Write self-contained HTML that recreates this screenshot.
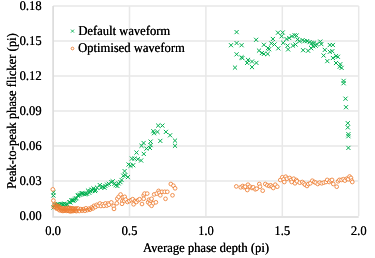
<!DOCTYPE html>
<html><head><meta charset="utf-8"><style>
html,body{margin:0;padding:0;background:#fff;}
svg{display:block;will-change:transform;}
text{font-family:"Liberation Serif",serif;font-size:12.6px;fill:#000;text-rendering:geometricPrecision;}
</style></head><body>
<svg width="375" height="258" viewBox="0 0 375 258">
<rect width="375" height="258" fill="#fff"/>
<path d="M129.5 5.9V215.9M205.9 5.9V215.9M282.3 5.9V215.9M358.7 5.9V215.9M53.1 180.9H358.7M53.1 145.9H358.7M53.1 110.9H358.7M53.1 75.9H358.7M53.1 40.9H358.7M53.1 5.9H358.7" stroke="#e8e8e8" stroke-width="1.5" fill="none"/>
<path d="M53.1 5.9V217.0H358.7" stroke="#dadada" stroke-width="1.6" fill="none"/>
<path d="M51.45 190.25L55.55 194.35M51.45 194.35L55.55 190.25M51.35 193.45L55.45 197.55M51.35 197.55L55.45 193.45M51.45 205.45L55.55 209.55M51.45 209.55L55.55 205.45M53.25 202.85L57.35 206.95M53.25 206.95L57.35 202.85M54.65 202.85L58.75 206.95M54.65 206.95L58.75 202.85M56.15 201.95L60.25 206.05M56.15 206.05L60.25 201.95M57.05 202.95L61.15 207.05M57.05 207.05L61.15 202.95M58.55 202.05L62.65 206.15M58.55 206.15L62.65 202.05M60.25 202.25L64.35 206.35M60.25 206.35L64.35 202.25M61.45 202.25L65.55 206.35M61.45 206.35L65.55 202.25M62.65 201.65L66.75 205.75M62.65 205.75L66.75 201.65M63.95 202.55L68.05 206.65M63.95 206.65L68.05 202.55M65.15 202.35L69.25 206.45M65.15 206.45L69.25 202.35M67.25 200.05L71.35 204.15M67.25 204.15L71.35 200.05M68.35 200.35L72.45 204.45M68.35 204.45L72.45 200.35M69.15 198.35L73.25 202.45M69.15 202.45L73.25 198.35M70.55 198.45L74.65 202.55M70.55 202.55L74.65 198.45M71.45 198.45L75.55 202.55M71.45 202.55L75.55 198.45M72.55 197.75L76.65 201.85M72.55 201.85L76.65 197.75M73.35 196.65L77.45 200.75M73.35 200.75L77.45 196.65M74.45 196.15L78.55 200.25M74.45 200.25L78.55 196.15M75.75 193.65L79.85 197.75M75.75 197.75L79.85 193.65M76.35 193.05L80.45 197.15M76.35 197.15L80.45 193.05M77.95 192.65L82.05 196.75M77.95 196.75L82.05 192.65M79.05 191.35L83.15 195.45M79.05 195.45L83.15 191.35M80.15 191.25L84.25 195.35M80.15 195.35L84.25 191.25M81.15 191.45L85.25 195.55M81.15 195.55L85.25 191.45M82.45 192.15L86.55 196.25M82.45 196.25L86.55 192.15M83.65 191.85L87.75 195.95M83.65 195.95L87.75 191.85M84.95 191.65L89.05 195.75M84.95 195.75L89.05 191.65M85.95 188.55L90.05 192.65M85.95 192.65L90.05 188.55M87.25 190.75L91.35 194.85M87.25 194.85L91.35 190.75M88.35 189.15L92.45 193.25M88.35 193.25L92.45 189.15M89.45 187.65L93.55 191.75M89.45 191.75L93.55 187.65M90.65 188.35L94.75 192.45M90.65 192.45L94.75 188.35M91.45 186.35L95.55 190.45M91.45 190.45L95.55 186.35M92.95 188.95L97.05 193.05M92.95 193.05L97.05 188.95M93.65 187.95L97.75 192.05M93.65 192.05L97.75 187.95M94.95 185.55L99.05 189.65M94.95 189.65L99.05 185.55M97.75 183.05L101.85 187.15M97.75 187.15L101.85 183.05M99.05 185.65L103.15 189.75M99.05 189.75L103.15 185.65M100.75 184.75L104.85 188.85M100.75 188.85L104.85 184.75M102.45 185.65L106.55 189.75M102.45 189.75L106.55 185.65M103.35 183.95L107.45 188.05M103.35 188.05L107.45 183.95M105.05 182.65L109.15 186.75M105.05 186.75L109.15 182.65M106.75 181.75L110.85 185.85M106.75 185.85L110.85 181.75M109.35 180.05L113.45 184.15M109.35 184.15L113.45 180.05M110.65 179.25L114.75 183.35M110.65 183.35L114.75 179.25M112.35 181.75L116.45 185.85M112.35 185.85L116.45 181.75M113.65 183.05L117.75 187.15M113.65 187.15L117.75 183.05M115.35 183.95L119.45 188.05M115.35 188.05L119.45 183.95M116.55 181.35L120.65 185.45M116.55 185.45L120.65 181.35M118.35 180.05L122.45 184.15M118.35 184.15L122.45 180.05M119.55 177.95L123.65 182.05M119.55 182.05L123.65 177.95M134.45 150.55L138.55 154.65M134.45 154.65L138.55 150.55M141.75 151.85L145.85 155.95M141.75 155.95L145.85 151.85M129.85 156.55L133.95 160.65M129.85 160.65L133.95 156.55M132.45 156.55L136.55 160.65M132.45 160.65L136.55 156.55M135.75 157.15L139.85 161.25M135.75 161.25L139.85 157.15M139.05 158.45L143.15 162.55M139.05 162.55L143.15 158.45M126.55 162.45L130.65 166.55M126.55 166.55L130.65 162.45M128.45 163.75L132.55 167.85M128.45 167.85L132.55 163.75M131.15 163.15L135.25 167.25M131.15 167.25L135.25 163.15M122.55 169.05L126.65 173.15M122.55 173.15L126.65 169.05M121.25 173.65L125.35 177.75M121.25 177.75L125.35 173.65M123.25 173.05L127.35 177.15M123.25 177.15L127.35 173.05M125.85 175.05L129.95 179.15M125.85 179.15L129.95 175.05M156.15 123.55L160.25 127.65M156.15 127.65L160.25 123.55M160.35 123.55L164.45 127.65M160.35 127.65L164.45 123.55M151.25 129.15L155.35 133.25M151.25 133.25L155.35 129.15M155.45 129.85L159.55 133.95M155.45 133.95L159.55 129.85M151.95 131.15L156.05 135.25M151.95 135.25L156.05 131.15M163.85 129.85L167.95 133.95M163.85 133.95L167.95 129.85M168.05 133.25L172.15 137.35M168.05 137.35L172.15 133.25M158.25 138.85L162.35 142.95M158.25 142.95L162.35 138.85M172.95 138.55L177.05 142.65M172.95 142.65L177.05 138.55M172.95 143.75L177.05 147.85M172.95 147.85L177.05 143.75M148.55 139.55L152.65 143.65M148.55 143.65L152.65 139.55M141.55 140.95L145.65 145.05M141.55 145.05L145.65 140.95M139.45 143.75L143.55 147.85M139.45 147.85L143.55 143.75M148.55 143.05L152.65 147.15M148.55 147.15L152.65 143.05M144.35 146.55L148.45 150.65M144.35 150.65L148.45 146.55M147.85 145.85L151.95 149.95M147.85 149.95L151.95 145.85M234.55 30.05L238.65 34.15M234.55 34.15L238.65 30.05M228.95 43.15L233.05 47.25M228.95 47.25L233.05 43.15M234.55 41.05L238.65 45.15M234.55 45.15L238.65 41.05M239.55 43.15L243.65 47.25M239.55 47.25L243.65 43.15M254.05 37.75L258.15 41.85M254.05 41.85L258.15 37.75M234.55 52.25L238.65 56.35M234.55 56.35L238.65 52.25M239.45 55.25L243.55 59.35M239.45 59.35L243.55 55.25M240.35 56.05L244.45 60.15M240.35 60.15L244.45 56.05M245.95 57.85L250.05 61.95M245.95 61.95L250.05 57.85M245.05 60.85L249.15 64.95M245.05 64.95L249.15 60.85M249.95 59.45L254.05 63.55M249.95 63.55L254.05 59.45M254.35 60.85L258.45 64.95M254.35 64.95L258.45 60.85M249.95 65.05L254.05 69.15M249.95 69.15L254.05 65.05M232.95 65.55L237.05 69.65M232.95 69.65L237.05 65.55M261.85 42.75L265.95 46.85M261.85 46.85L265.95 42.75M256.95 48.55L261.05 52.65M256.95 52.65L261.05 48.55M259.85 50.95L263.95 55.05M259.85 55.05L263.95 50.95M261.85 51.85L265.95 55.95M261.85 55.95L265.95 51.85M265.65 51.85L269.75 55.95M265.65 55.95L269.75 51.85M265.95 46.05L270.05 50.15M265.95 50.15L270.05 46.05M267.05 47.15L271.15 51.25M267.05 51.25L271.15 47.15M275.95 30.65L280.05 34.75M275.95 34.75L280.05 30.65M280.65 30.45L284.75 34.55M280.65 34.55L284.75 30.45M279.55 34.25L283.65 38.35M279.55 38.35L283.65 34.25M270.85 36.95L274.95 41.05M270.85 41.05L274.95 36.95M269.25 41.35L273.35 45.45M269.25 45.45L273.35 41.35M272.45 42.45L276.55 46.55M272.45 46.55L276.55 42.45M276.25 46.25L280.35 50.35M276.25 50.35L280.35 46.25M281.15 40.75L285.25 44.85M281.15 44.85L285.25 40.75M284.45 36.95L288.55 41.05M284.45 41.05L288.55 36.95M287.15 35.95L291.25 40.05M287.15 40.05L291.25 35.95M289.85 34.25L293.95 38.35M289.85 38.35L293.95 34.25M292.55 33.15L296.65 37.25M292.55 37.25L296.65 33.15M285.55 43.55L289.65 47.65M285.55 47.65L289.65 43.55M286.05 47.35L290.15 51.45M286.05 51.45L290.15 47.35M290.95 43.55L295.05 47.65M290.95 47.65L295.05 43.55M294.45 33.55L298.55 37.65M294.45 37.65L298.55 33.55M295.45 37.55L299.55 41.65M295.45 41.65L299.55 37.55M297.45 39.05L301.55 43.15M297.45 43.15L301.55 39.05M300.55 38.05L304.65 42.15M300.55 42.15L304.65 38.05M302.55 39.05L306.65 43.15M302.55 43.15L306.65 39.05M305.05 39.05L309.15 43.15M305.05 43.15L309.15 39.05M307.55 40.05L311.65 44.15M307.55 44.15L311.65 40.05M309.65 41.05L313.75 45.15M309.65 45.15L313.75 41.05M311.65 41.05L315.75 45.15M311.65 45.15L315.75 41.05M313.65 43.65L317.75 47.75M313.65 47.75L317.75 43.65M314.65 42.05L318.75 46.15M314.65 46.15L318.75 42.05M318.25 39.55L322.35 43.65M318.25 43.65L322.35 39.55M319.25 42.05L323.35 46.15M319.25 46.15L323.35 42.05M311.15 44.15L315.25 48.25M311.15 48.25L315.25 44.15M309.15 46.15L313.25 50.25M309.15 50.25L313.25 46.15M306.05 48.65L310.15 52.75M306.05 52.75L310.15 48.65M301.05 48.15L305.15 52.25M301.05 52.25L305.15 48.15M293.45 42.45L297.55 46.55M293.45 46.55L297.55 42.45M327.75 42.95L331.85 47.05M327.75 47.05L331.85 42.95M330.85 42.95L334.95 47.05M330.85 47.05L334.95 42.95M322.75 47.85L326.85 51.95M322.75 51.95L326.85 47.85M327.75 49.75L331.85 53.85M327.75 53.85L331.85 49.75M330.25 49.15L334.35 53.25M330.25 53.25L334.35 49.15M321.55 53.45L325.65 57.55M321.55 57.55L325.65 53.45M330.85 55.95L334.95 60.05M330.85 60.05L334.95 55.95M333.95 54.05L338.05 58.15M333.95 58.15L338.05 54.05M335.85 54.75L339.95 58.85M335.85 58.85L339.95 54.75M325.25 59.05L329.35 63.15M325.25 63.15L329.35 59.05M333.95 60.95L338.05 65.05M333.95 65.05L338.05 60.95M338.25 62.15L342.35 66.25M338.25 66.25L342.35 62.15M337.65 64.65L341.75 68.75M337.65 68.75L341.75 64.65M339.55 65.85L343.65 69.95M339.55 69.95L343.65 65.85M341.55 78.85L345.65 82.95M341.55 82.95L345.65 78.85M341.55 81.15L345.65 85.25M341.55 85.25L345.65 81.15M343.45 96.65L347.55 100.75M343.45 100.75L347.55 96.65M343.95 105.15L348.05 109.25M343.95 109.25L348.05 105.15M345.75 121.15L349.85 125.25M345.75 125.25L349.85 121.15M345.75 125.35L349.85 129.45M345.75 129.45L349.85 125.35M346.35 132.15L350.45 136.25M346.35 136.25L350.45 132.15M346.35 134.15L350.45 138.25M346.35 138.25L350.45 134.15M346.35 145.85L350.45 149.95M346.35 149.95L350.45 145.85" stroke="#00b050" stroke-width="1.0" fill="none"/>
<g fill="none" stroke="#ed7d31" stroke-width="0.85"><circle cx="53.7" cy="206.9" r="1.85"/><circle cx="54.5" cy="204.0" r="1.85"/><circle cx="55.0" cy="206.7" r="1.85"/><circle cx="55.7" cy="205.0" r="1.85"/><circle cx="56.4" cy="208.5" r="1.85"/><circle cx="56.8" cy="206.5" r="1.85"/><circle cx="57.3" cy="208.1" r="1.85"/><circle cx="58.0" cy="206.0" r="1.85"/><circle cx="58.5" cy="209.2" r="1.85"/><circle cx="59.2" cy="206.7" r="1.85"/><circle cx="59.6" cy="210.3" r="1.85"/><circle cx="60.3" cy="208.2" r="1.85"/><circle cx="61.2" cy="210.2" r="1.85"/><circle cx="61.6" cy="208.2" r="1.85"/><circle cx="62.3" cy="210.9" r="1.85"/><circle cx="62.8" cy="208.5" r="1.85"/><circle cx="63.6" cy="210.8" r="1.85"/><circle cx="64.0" cy="208.7" r="1.85"/><circle cx="64.5" cy="210.6" r="1.85"/><circle cx="65.4" cy="208.4" r="1.85"/><circle cx="65.8" cy="210.2" r="1.85"/><circle cx="66.4" cy="208.5" r="1.85"/><circle cx="66.8" cy="210.9" r="1.85"/><circle cx="67.7" cy="207.9" r="1.85"/><circle cx="68.3" cy="210.8" r="1.85"/><circle cx="68.9" cy="208.2" r="1.85"/><circle cx="69.5" cy="211.1" r="1.85"/><circle cx="69.8" cy="207.9" r="1.85"/><circle cx="70.7" cy="211.4" r="1.85"/><circle cx="71.1" cy="208.4" r="1.85"/><circle cx="71.8" cy="210.7" r="1.85"/><circle cx="72.3" cy="208.3" r="1.85"/><circle cx="72.9" cy="211.1" r="1.85"/><circle cx="73.5" cy="208.5" r="1.85"/><circle cx="74.3" cy="210.5" r="1.85"/><circle cx="74.8" cy="209.0" r="1.85"/><circle cx="75.3" cy="210.8" r="1.85"/><circle cx="76.1" cy="208.4" r="1.85"/><circle cx="76.5" cy="211.1" r="1.85"/><circle cx="78.0" cy="208.4" r="1.85"/><circle cx="79.2" cy="211.0" r="1.85"/><circle cx="80.8" cy="209.1" r="1.85"/><circle cx="82.1" cy="210.7" r="1.85"/><circle cx="83.3" cy="209.2" r="1.85"/><circle cx="84.9" cy="210.8" r="1.85"/><circle cx="85.9" cy="208.3" r="1.85"/><circle cx="87.4" cy="210.1" r="1.85"/><circle cx="88.9" cy="208.7" r="1.85"/><circle cx="90.0" cy="209.7" r="1.85"/><circle cx="91.6" cy="207.5" r="1.85"/><circle cx="92.9" cy="208.5" r="1.85"/><circle cx="94.0" cy="205.8" r="1.85"/></g>
<g fill="#fff" stroke="#ed7d31" stroke-width="0.85"><circle cx="52.8" cy="189.4" r="1.85"/><circle cx="53.4" cy="200.6" r="1.85"/><circle cx="95.6" cy="206.9" r="1.85"/><circle cx="96.8" cy="204.8" r="1.85"/><circle cx="98.3" cy="205.7" r="1.85"/><circle cx="99.9" cy="203.5" r="1.85"/><circle cx="100.9" cy="206.0" r="1.85"/><circle cx="102.7" cy="204.4" r="1.85"/><circle cx="103.9" cy="205.9" r="1.85"/><circle cx="105.5" cy="203.4" r="1.85"/><circle cx="106.8" cy="205.6" r="1.85"/><circle cx="108.2" cy="203.5" r="1.85"/><circle cx="108.9" cy="204.7" r="1.85"/><circle cx="111.3" cy="202.4" r="1.85"/><circle cx="113.6" cy="206.1" r="1.85"/><circle cx="114" cy="208.9" r="1.85"/><circle cx="116.8" cy="203.3" r="1.85"/><circle cx="117.3" cy="198.7" r="1.85"/><circle cx="118.7" cy="196.8" r="1.85"/><circle cx="120.6" cy="194.5" r="1.85"/><circle cx="122.9" cy="197.3" r="1.85"/><circle cx="124.7" cy="196.8" r="1.85"/><circle cx="122.4" cy="201" r="1.85"/><circle cx="122" cy="203.8" r="1.85"/><circle cx="124.3" cy="201" r="1.85"/><circle cx="125.7" cy="199.6" r="1.85"/><circle cx="127.5" cy="202" r="1.85"/><circle cx="129.4" cy="201" r="1.85"/><circle cx="131.3" cy="200.1" r="1.85"/><circle cx="132.7" cy="199.2" r="1.85"/><circle cx="133.6" cy="204.3" r="1.85"/><circle cx="135" cy="201" r="1.85"/><circle cx="136.4" cy="202" r="1.85"/><circle cx="138.2" cy="200.1" r="1.85"/><circle cx="139.6" cy="199.2" r="1.85"/><circle cx="142" cy="204" r="1.85"/><circle cx="143.7" cy="195.3" r="1.85"/><circle cx="144.6" cy="193.6" r="1.85"/><circle cx="147.2" cy="193.6" r="1.85"/><circle cx="143.7" cy="198.8" r="1.85"/><circle cx="148.1" cy="202.3" r="1.85"/><circle cx="149" cy="199.7" r="1.85"/><circle cx="150.7" cy="200.5" r="1.85"/><circle cx="151.6" cy="198.8" r="1.85"/><circle cx="149.8" cy="204" r="1.85"/><circle cx="151.6" cy="205.8" r="1.85"/><circle cx="153.3" cy="203.2" r="1.85"/><circle cx="155.9" cy="202.3" r="1.85"/><circle cx="154.2" cy="194.4" r="1.85"/><circle cx="156.8" cy="193.6" r="1.85"/><circle cx="158.6" cy="190.9" r="1.85"/><circle cx="159.4" cy="192.7" r="1.85"/><circle cx="160.3" cy="195.3" r="1.85"/><circle cx="162" cy="191.8" r="1.85"/><circle cx="164.7" cy="191.8" r="1.85"/><circle cx="167.3" cy="191.8" r="1.85"/><circle cx="165.5" cy="198.8" r="1.85"/><circle cx="170.8" cy="184" r="1.85"/><circle cx="173.4" cy="185.7" r="1.85"/><circle cx="175.1" cy="188.3" r="1.85"/><circle cx="172.5" cy="195.3" r="1.85"/><circle cx="236.3" cy="186.4" r="1.85"/><circle cx="240.7" cy="187.3" r="1.85"/><circle cx="242.7" cy="186" r="1.85"/><circle cx="244" cy="187.3" r="1.85"/><circle cx="245.3" cy="186.7" r="1.85"/><circle cx="248" cy="184.7" r="1.85"/><circle cx="248.7" cy="187.3" r="1.85"/><circle cx="247.3" cy="190" r="1.85"/><circle cx="250" cy="186.7" r="1.85"/><circle cx="252" cy="188" r="1.85"/><circle cx="253.3" cy="187.3" r="1.85"/><circle cx="255.3" cy="189.3" r="1.85"/><circle cx="256.7" cy="188.7" r="1.85"/><circle cx="259.3" cy="184" r="1.85"/><circle cx="260" cy="186.7" r="1.85"/><circle cx="262.7" cy="190.7" r="1.85"/><circle cx="265.3" cy="184" r="1.85"/><circle cx="267.3" cy="185.3" r="1.85"/><circle cx="269.3" cy="186" r="1.85"/><circle cx="270.7" cy="185.3" r="1.85"/><circle cx="272" cy="186.7" r="1.85"/><circle cx="273.3" cy="188" r="1.85"/><circle cx="275.3" cy="184.7" r="1.85"/><circle cx="277.3" cy="186.7" r="1.85"/><circle cx="280.3" cy="180" r="1.85"/><circle cx="282.3" cy="177.3" r="1.85"/><circle cx="283.7" cy="179.3" r="1.85"/><circle cx="284.3" cy="182" r="1.85"/><circle cx="285.7" cy="176.7" r="1.85"/><circle cx="287" cy="178.7" r="1.85"/><circle cx="289.7" cy="178" r="1.85"/><circle cx="291" cy="180" r="1.85"/><circle cx="291.7" cy="182" r="1.85"/><circle cx="293.7" cy="178.7" r="1.85"/><circle cx="295" cy="183.3" r="1.85"/><circle cx="296.3" cy="180" r="1.85"/><circle cx="297" cy="181.3" r="1.85"/><circle cx="299.7" cy="182.7" r="1.85"/><circle cx="302.3" cy="182" r="1.85"/><circle cx="303.7" cy="183.3" r="1.85"/><circle cx="305" cy="184.7" r="1.85"/><circle cx="307" cy="186" r="1.85"/><circle cx="308.3" cy="184" r="1.85"/><circle cx="310.3" cy="183.3" r="1.85"/><circle cx="312.3" cy="180.7" r="1.85"/><circle cx="314.3" cy="182" r="1.85"/><circle cx="315.7" cy="182.7" r="1.85"/><circle cx="317.7" cy="184" r="1.85"/><circle cx="319.7" cy="182.6" r="1.85"/><circle cx="321.7" cy="183.3" r="1.85"/><circle cx="323.8" cy="182.6" r="1.85"/><circle cx="325.9" cy="182" r="1.85"/><circle cx="327.2" cy="179.9" r="1.85"/><circle cx="329.2" cy="182" r="1.85"/><circle cx="330.6" cy="180.6" r="1.85"/><circle cx="332" cy="179.9" r="1.85"/><circle cx="333.3" cy="184" r="1.85"/><circle cx="336.7" cy="186.7" r="1.85"/><circle cx="338.1" cy="181.3" r="1.85"/><circle cx="339.4" cy="179.9" r="1.85"/><circle cx="341.5" cy="179.9" r="1.85"/><circle cx="343.5" cy="179.2" r="1.85"/><circle cx="344.9" cy="180.6" r="1.85"/><circle cx="346.9" cy="178.6" r="1.85"/><circle cx="348.2" cy="179.2" r="1.85"/><circle cx="349.6" cy="176.5" r="1.85"/><circle cx="351" cy="177.9" r="1.85"/><circle cx="351.6" cy="180.6" r="1.85"/><circle cx="352.3" cy="182" r="1.85"/></g>
<path d="M71 29.6L74 32.6M71 32.6L74 29.6" stroke="#00b050" stroke-width="0.9"/>
<circle cx="72.5" cy="48.5" r="1.35" fill="#fff" stroke="#ed7d31" stroke-width="0.9"/>
<g transform="translate(78.30 35.10) scale(1 1.06)"><text x="-0.1">Default waveform</text><text x="0.1">Default waveform</text></g><g transform="translate(78.10 52.40) scale(1 1.06)"><text x="-0.1">Optimised waveform</text><text x="0.1">Optimised waveform</text></g>
<g transform="translate(41.60 220.40) scale(1 1.06)"><text x="-0.1" text-anchor="end">0.00</text><text x="0.1" text-anchor="end">0.00</text></g><g transform="translate(41.60 185.40) scale(1 1.06)"><text x="-0.1" text-anchor="end">0.03</text><text x="0.1" text-anchor="end">0.03</text></g><g transform="translate(41.60 150.40) scale(1 1.06)"><text x="-0.1" text-anchor="end">0.06</text><text x="0.1" text-anchor="end">0.06</text></g><g transform="translate(41.60 115.40) scale(1 1.06)"><text x="-0.1" text-anchor="end">0.09</text><text x="0.1" text-anchor="end">0.09</text></g><g transform="translate(41.60 80.40) scale(1 1.06)"><text x="-0.1" text-anchor="end">0.12</text><text x="0.1" text-anchor="end">0.12</text></g><g transform="translate(41.60 45.40) scale(1 1.06)"><text x="-0.1" text-anchor="end">0.15</text><text x="0.1" text-anchor="end">0.15</text></g><g transform="translate(41.60 10.40) scale(1 1.06)"><text x="-0.1" text-anchor="end">0.18</text><text x="0.1" text-anchor="end">0.18</text></g>
<g transform="translate(53.10 235.40) scale(1 1.06)"><text x="-0.1" text-anchor="middle">0.0</text><text x="0.1" text-anchor="middle">0.0</text></g><g transform="translate(129.50 235.40) scale(1 1.06)"><text x="-0.1" text-anchor="middle">0.5</text><text x="0.1" text-anchor="middle">0.5</text></g><g transform="translate(205.90 235.40) scale(1 1.06)"><text x="-0.1" text-anchor="middle">1.0</text><text x="0.1" text-anchor="middle">1.0</text></g><g transform="translate(282.30 235.40) scale(1 1.06)"><text x="-0.1" text-anchor="middle">1.5</text><text x="0.1" text-anchor="middle">1.5</text></g><g transform="translate(358.70 235.40) scale(1 1.06)"><text x="-0.1" text-anchor="middle">2.0</text><text x="0.1" text-anchor="middle">2.0</text></g>
<g transform="translate(206.00 251.80) scale(1 1.06)"><text x="-0.1" text-anchor="middle">Average phase depth (pi)</text><text x="0.1" text-anchor="middle">Average phase depth (pi)</text></g><g transform="translate(15.50 111.00) rotate(-90) scale(1 1.06)"><text x="-0.1" text-anchor="middle">Peak-to-peak phase flicker (pi)</text><text x="0.1" text-anchor="middle">Peak-to-peak phase flicker (pi)</text></g>
</svg>
</body></html>
